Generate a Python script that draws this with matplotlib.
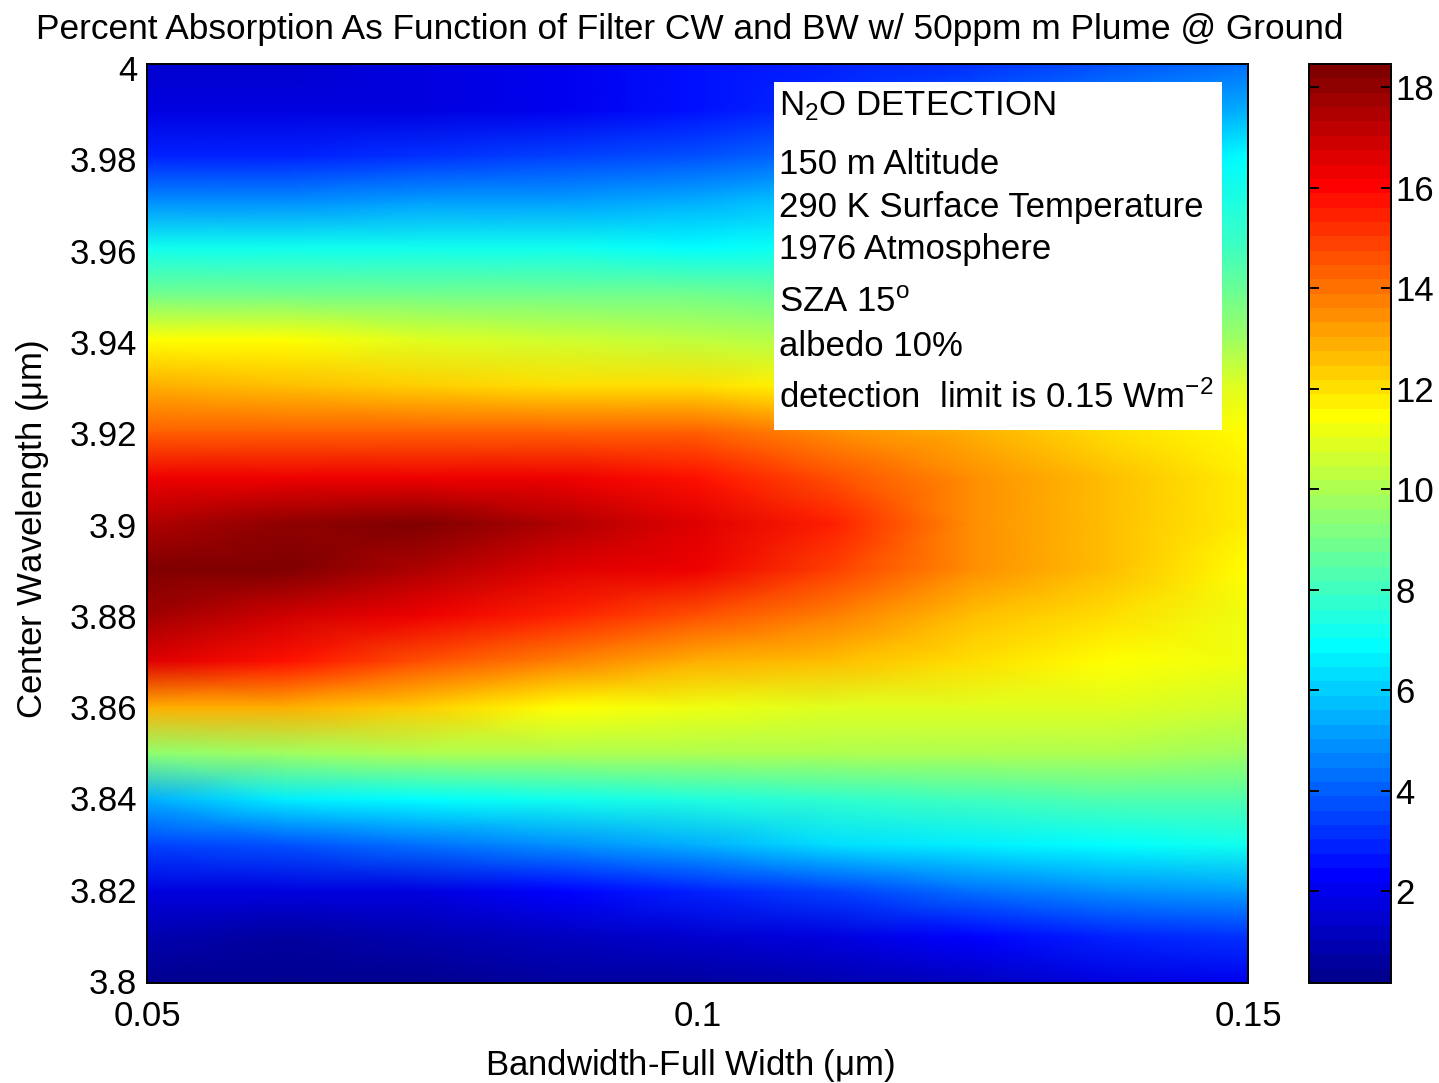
import matplotlib
matplotlib.use('Agg')
import matplotlib.pyplot as plt
from matplotlib.colors import LinearSegmentedColormap
from matplotlib.patches import Rectangle
from matplotlib.transforms import ScaledTranslation
import numpy as np

plt.rcParams['font.family'] = ['Liberation Sans', 'DejaVu Sans']
plt.rcParams['mathtext.default'] = 'regular'

bandwidth = [0.05, 0.0625, 0.075, 0.0875, 0.1, 0.1125, 0.125, 0.1375, 0.15]
wavelength = [3.80, 3.81, 3.82, 3.83, 3.84, 3.85, 3.86, 3.87, 3.88, 3.89, 3.90,
              3.91, 3.92, 3.93, 3.94, 3.95, 3.96, 3.97, 3.98, 3.99, 4.00]

# rows go with wavelength, bottom to top
absorption = [
    [0.3, 0.3, 0.4, 0.5, 0.7, 0.9, 1.2, 1.6, 2.0],
    [0.8, 0.7, 0.9, 1.1, 1.4, 1.8, 2.3, 2.8, 3.2],
    [1.6, 1.6, 1.8, 2.2, 2.8, 3.4, 4.2, 4.8, 5.2],
    [3.4, 3.6, 4.2, 4.8, 5.5, 6.2, 6.7, 7.0, 7.1],
    [5.4, 6.5, 7.0, 7.3, 7.5, 7.8, 8.0, 8.2, 8.2],
    [9.6, 9.8, 9.9, 10.0, 10.0, 10.0, 10.0, 9.9, 9.8],
    [13.0, 12.8, 12.3, 11.6, 11.2, 11.0, 10.9, 10.8, 10.7],
    [16.6, 15.7, 14.6, 13.8, 12.8, 12.6, 12.0, 11.5, 11.2],
    [17.8, 17.0, 16.2, 15.4, 14.7, 13.8, 12.5, 11.9, 11.2],
    [18.4, 18.4, 17.5, 16.7, 16.2, 15.0, 13.4, 12.5, 11.6],
    [17.5, 18.0, 18.2, 17.5, 16.6, 15.5, 13.6, 12.6, 11.8],
    [16.2, 16.4, 16.3, 16.2, 15.8, 14.7, 13.4, 12.5, 11.7],
    [14.3, 14.3, 14.3, 14.3, 14.3, 13.6, 12.8, 12.1, 11.6],
    [13.0, 12.5, 12.3, 12.1, 11.9, 11.6, 11.2, 11.0, 10.8],
    [11.6, 11.4, 10.9, 10.5, 10.2, 10.0, 9.9, 9.8, 9.7],
    [9.0, 9.0, 9.0, 8.9, 8.8, 8.7, 8.7, 8.7, 8.8],
    [7.2, 7.2, 7.1, 7.1, 7.0, 7.2, 7.6, 7.8, 8.0],
    [5.0, 5.0, 5.1, 5.2, 5.5, 5.9, 6.4, 6.9, 7.5],
    [3.0, 3.0, 3.1, 3.4, 3.8, 4.3, 5.0, 5.9, 6.8],
    [1.7, 1.7, 1.8, 2.1, 2.6, 3.2, 4.0, 4.8, 5.5],
    [1.4, 1.4, 1.6, 2.0, 2.6, 3.0, 3.3, 3.8, 4.4],
]

cbar_ticks = [2, 4, 6, 8, 10, 12, 14, 16, 18]
yticks = [3.8, 3.82, 3.84, 3.86, 3.88, 3.9, 3.92, 3.94, 3.96, 3.98, 4]
yticklabels = ['3.8', '3.82', '3.84', '3.86', '3.88', '3.9', '3.92', '3.94', '3.96', '3.98', '4']
info_lines = ['N$_2$O DETECTION', '150 m Altitude', '290 K Surface Temperature',
              '1976 Atmosphere', 'SZA 15$^o$', 'albedo 10%',
              'detection  limit is 0.15 Wm$^{-2}$']
info_y = [106, 164, 207, 250, 303, 347, 398]

# the old matlab jet, 64 steps, its bands sit a bit lower than matplotlib's
matlab_jet = LinearSegmentedColormap.from_list('matlab_jet', [
    (0.0, (0, 0, 0.5625)), (7 / 63, (0, 0, 1)), (23 / 63, (0, 1, 1)),
    (39 / 63, (1, 1, 0)), (55 / 63, (1, 0, 0)), (1.0, (0.5, 0, 0))], N=64)

W, H = 1439.0, 1083.0
fs = 25
fig = plt.figure(figsize=(W / 100, H / 100), dpi=100)
ax = fig.add_axes([147 / W, 1 - 983 / H, (1248 - 147) / W, (983 - 64) / H])
cax = fig.add_axes([1309 / W, 1 - 983 / H, (1391 - 1309) / W, (983 - 64) / H])

im = ax.pcolormesh(bandwidth, wavelength, np.array(absorption), cmap=matlab_jet,
                   shading='gouraud', vmin=0.17, vmax=18.46)
ax.set_xlim(0.05, 0.15)
ax.set_ylim(3.8, 4.0)
ax.set_xticks([0.05, 0.1, 0.15])
ax.set_xticklabels(['0.05', '0.1', '0.15'])
ax.set_yticks(yticks)
ax.set_yticklabels(yticklabels)
# ticks are hidden under the image in the original
ax.tick_params(axis='x', direction='in', length=0, labelsize=fs, pad=12)
ax.tick_params(axis='y', direction='in', length=0, labelsize=fs, pad=7)
# labels drift a few pixels below their ticks towards the top
for i, lab in enumerate(ax.get_yticklabels()):
    lab.set_transform(lab.get_transform() + ScaledTranslation(0, (2 - 0.6 * i) / 100, fig.dpi_scale_trans))
ax.set_xlabel('Bandwidth-Full Width ($\\mu$m)', fontsize=fs, labelpad=10, x=0.493)
ax.set_ylabel('Center Wavelength ($\\mu$m)', fontsize=fs, labelpad=13.6, y=0.4935)
ax.set_title('Percent Absorption As Function of Filter CW and BW w/ 50ppm m Plume @ Ground',
             fontsize=25.4, pad=18, x=0.493)
for s in ax.spines.values():
    s.set_linewidth(1.4)

# white info box, placed in pixels
ax.add_patch(Rectangle((774 / W, 1 - 430 / H), (1222 - 774) / W, (430 - 82) / H,
                       transform=fig.transFigure, facecolor='white', edgecolor='none', zorder=5))
for line, y in zip(info_lines, info_y):
    fig.text(779 / W, 1 - y / H, line, fontsize=fs, va='center', ha='left', zorder=6)

cb = fig.colorbar(im, cax=cax)
cb.set_ticks(cbar_ticks)
cb.ax.tick_params(direction='in', length=7, width=1.4, labelsize=fs, pad=3, left=True, right=True)
cb.outline.set_linewidth(1.4)

fig.savefig('out.png', dpi=100)
